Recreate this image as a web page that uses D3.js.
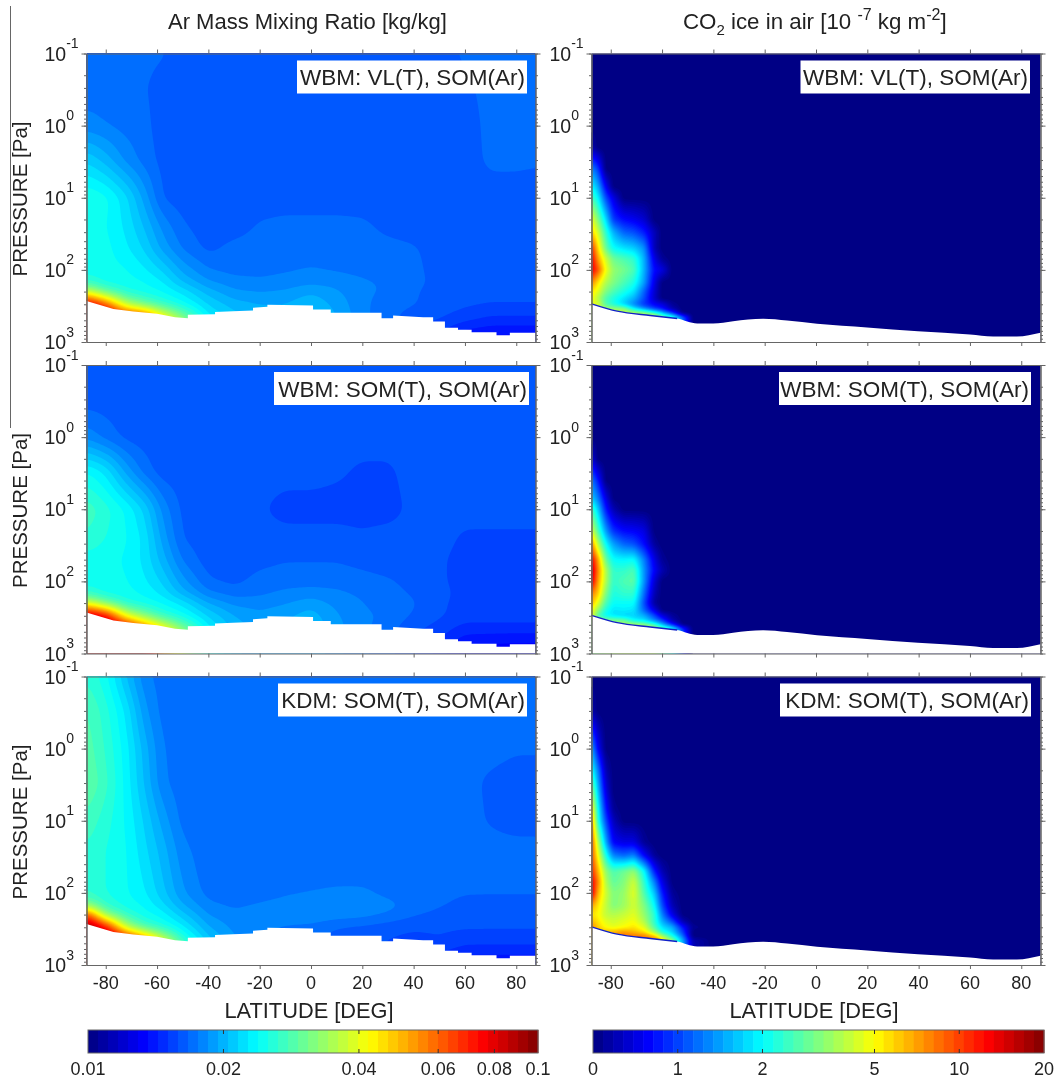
<!DOCTYPE html>
<html lang="en">
<head>
<meta charset="UTF-8">
<title>Ar mass mixing ratio and CO2 ice</title>
<script src="https://cdn.jsdelivr.net/npm/d3@7"></script>
<style>
    html, body { margin: 0; padding: 0; background: #fff; }
    svg { display: block; filter: blur(0.4px); }
    text { font-family: "Liberation Sans", Arial, sans-serif; fill: #222; }
    .axis path, .axis line { stroke: #666; }
</style>
</head>
<body>
<svg id="chart" width="1056" height="1080"></svg>
<script>
// grid of the Ar panels
var arLat = [-87.5,-80,-72,-65,-58,-50,-40,-30,-20,-10,0,10,20,30,40,50,60,70,80,87.5];
var arPres = [0.1,0.3,1,3,10,25,50,100,150,200,300,450,700,1000];

// Ar mass mixing ratio, units of 1e-4 kg/kg, one row per pressure
var arVL = [
    [170,170,170,170,168,162,162,162,162,162,162,162,162,162,162,164,168,170,170,170],
    [170,170,170,168,162,162,162,162,162,162,162,162,162,162,162,162,165,170,170,170],
    [180,176,172,170,162,162,162,162,162,162,162,162,162,162,162,162,162,170,170,170],
    [214,200,182,172,164,162,162,162,162,162,162,162,162,162,162,162,162,169,169,168],
    [251,243,219,191,166,162,162,162,162,162,162,162,162,162,162,162,162,162,162,162],
    [245,240,224,204,182,168,162,162,168,170,170,170,169,164,162,162,162,162,162,162],
    [243,243,229,214,191,174,164,170,172,172,172,172,172,170,168,162,162,162,162,162],
    [245,243,240,229,214,191,176,172,172,174,176,174,172,170,170,162,162,162,162,162],
    [263,245,243,240,229,204,186,180,178,180,182,182,178,174,170,164,162,162,162,162],
    [380,288,251,243,237,224,200,186,184,186,193,186,178,174,168,162,161,160,160,160],
    [891,631,355,295,263,240,214,200,195,195,204,191,178,170,168,162,160,159,159,159],
    [1000,955,794,708,447,316,229,209,200,200,209,195,178,170,162,160,155,150,150,150],
    [1000,1000,1000,1000,600,400,260,220,200,200,209,195,178,170,160,152,142,139,139,139],
    [1000,1000,1000,1000,600,400,260,220,200,200,209,195,178,170,158,145,132,130,130,130]
];
var arSOM = [
    [162,162,162,162,162,162,162,162,162,162,162,162,162,162,162,162,162,162,162,162],
    [162,162,162,162,162,162,162,162,162,162,162,162,162,162,162,162,162,162,162,162],
    [182,172,164,162,162,162,162,162,162,162,162,162,162,162,162,162,162,162,162,162],
    [240,224,191,172,162,162,162,162,162,162,162,160,157,157,162,162,162,162,162,162],
    [275,257,237,214,182,164,162,162,160,155,155,155,155,155,161,162,162,162,162,162],
    [263,251,240,224,191,166,162,162,162,162,162,162,160,162,162,162,157,157,157,157],
    [245,243,237,224,200,174,162,162,164,166,166,166,164,162,162,160,155,155,155,155],
    [245,243,240,229,214,188,168,164,170,172,172,172,170,168,164,160,155,155,155,155],
    [263,245,243,237,224,200,178,172,174,178,180,178,174,170,166,162,155,155,155,155],
    [398,302,251,243,237,224,195,182,180,184,191,182,176,170,168,160,155,155,155,155],
    [955,794,398,316,263,240,214,195,188,193,200,186,178,174,166,160,155,155,155,155],
    [1000,1000,891,631,447,316,229,200,190,195,204,188,178,170,160,155,147,147,147,147],
    [1000,1000,1000,1000,600,400,260,210,195,198,204,188,178,170,160,150,138,137,136,136],
    [1000,1000,1000,1000,600,400,260,210,195,198,204,188,178,170,160,148,130,130,130,130]
];
var arKDM = [
    [263,243,204,178,172,170,170,170,170,170,170,170,170,170,170,170,170,170,170,170],
    [282,257,224,188,172,170,170,170,170,170,170,170,170,170,170,170,170,170,170,170],
    [288,263,232,200,176,170,170,170,170,170,170,170,170,170,170,170,170,170,168,168],
    [295,269,234,204,178,170,170,170,170,170,170,170,170,170,170,170,170,165,162,162],
    [275,257,237,214,191,172,170,170,170,170,170,170,170,170,170,170,170,166,163,163],
    [263,251,240,219,200,178,170,170,170,170,170,170,170,170,170,170,170,170,170,170],
    [263,251,240,224,204,182,170,170,170,170,170,170,170,170,170,170,170,170,170,170],
    [263,251,240,229,209,186,172,170,170,174,176,178,178,172,170,170,168,168,168,168],
    [316,263,245,237,219,195,178,174,178,180,182,184,184,180,172,168,163,162,162,162],
    [708,316,263,243,234,209,184,178,178,182,184,182,180,174,168,164,162,161,161,161],
    [1000,794,355,275,251,229,195,182,178,174,172,166,164,162,160,160,160,160,160,160],
    [1000,1000,891,631,398,263,209,186,178,172,168,164,160,158,155,158,153,153,153,153],
    [1000,1000,1000,1000,550,320,220,190,178,172,168,164,160,158,155,150,146,146,146,146],
    [1000,1000,1000,1000,550,320,220,190,178,172,168,164,160,158,155,148,130,130,130,130]
];

// grid of the ice panels, only the southern high latitudes have ice
var iceLat = [-87.5,-85,-82,-79,-75,-71,-67,-63,-60,-56,-52,-48,-40,87.5];
var icePres = [0.1,0.3,1,2,4,7,10,20,30,50,70,100,150,200,250,300,350,400,450,1000];

// CO2 ice in air, units of 1e-7 kg m-2
var iceVL = [
    [0,0,0,0,0,0,0,0,0,0,0,0,0,0],
    [0,0,0,0,0,0,0,0,0,0,0,0,0,0],
    [0,0,0,0,0,0,0,0,0,0,0,0,0,0],
    [0.6,0,0,0,0,0,0,0,0,0,0,0,0,0],
    [1.3,1,0.5,0,0,0,0,0,0,0,0,0,0,0],
    [2,1.5,0.78,0,0,0,0,0,0,0,0,0,0,0],
    [2.63,1.96,1.04,0.72,0,0,0,0,0,0,0,0,0,0],
    [4.9,3.16,1.82,0.97,0.81,0.75,0.67,0,0,0,0,0,0,0],
    [6.1,4.24,2.36,1.51,1.13,1.04,0.87,0.62,0,0,0,0,0,0],
    [11.5,5.7,2.94,2.03,1.82,1.68,1.35,0.6,0,0,0,0,0,0],
    [13.8,7.1,4.24,2.94,2.63,2.36,1.51,0.72,0.54,0,0,0,0,0],
    [13.8,9.6,4.9,3.4,3.05,2.63,1.51,0.81,0.72,0,0,0,0,0],
    [7.9,5.5,3.8,3.16,2.63,2.2,1.41,0.72,0,0,0,0,0,0],
    [5.5,4.55,3.16,2.63,2.2,1.82,1.13,0.67,0,0,0,0,0,0],
    [5.1,3.8,2.63,2.2,1.82,1.51,1.04,0.65,0,0,0,0,0,0],
    [4.55,4.55,2.63,2.2,1.68,1.26,0.94,0.78,0.72,0.54,0,0,0,0],
    [3.8,3.8,3.8,3.6,3.6,2,1.4,1,0.85,0.6,0,0,0,0],
    [3.8,3.8,3.8,4,4.2,4.2,3.8,2.8,1.8,1,0.5,0,0,0],
    [3.8,3.8,3.8,4,4.2,4.2,4.2,4.2,3.2,2.4,1.2,0,0,0],
    [3.8,3.8,3.8,4,4.2,4.2,4.2,4.2,3.2,2.4,1.2,0,0,0]
];
var iceSOM = [
    [0,0,0,0,0,0,0,0,0,0,0,0,0,0],
    [0,0,0,0,0,0,0,0,0,0,0,0,0,0],
    [0,0,0,0,0,0,0,0,0,0,0,0,0,0],
    [0.72,0.5,0,0,0,0,0,0,0,0,0,0,0,0],
    [1.26,0.87,0.5,0,0,0,0,0,0,0,0,0,0,0],
    [1.68,1.26,0.72,0,0,0,0,0,0,0,0,0,0,0],
    [2.63,1.68,0.87,0.6,0,0,0,0,0,0,0,0,0,0],
    [4.55,2.63,1.41,0.94,0.81,0.78,0.72,0,0,0,0,0,0,0],
    [7.9,3.8,2.03,1.41,1.13,1.04,0.81,0.55,0,0,0,0,0,0],
    [13.8,7.1,2.94,2.03,1.96,2.03,1.26,0.72,0.54,0,0,0,0,0],
    [16.6,7.9,3.8,2.36,2.36,2.63,1.35,0.78,0.6,0,0,0,0,0],
    [15,7.1,3.8,2.36,2.63,2.8,1.35,0.67,0,0,0,0,0,0],
    [7.9,6.1,3.16,2.2,2.36,2.36,1.16,0.6,0,0,0,0,0,0],
    [6.6,4.55,2.63,2.03,2.03,2.03,1.04,0.55,0,0,0,0,0,0],
    [5.1,3.4,2.2,1.82,1.9,1.82,1.13,0.72,0,0,0,0,0,0],
    [5.1,2.63,1.96,1.82,1.68,1.68,1.51,1.04,0.72,0.55,0,0,0,0],
    [3.4,3.4,3.4,3.2,3,2,1.8,1.3,1,0.6,0,0,0,0],
    [3.4,3.4,3.6,3.8,4,4,3.5,2.6,1.6,0.9,0.5,0,0,0],
    [3.4,3.4,3.6,3.8,4,4,4,4,3,2.2,1,0,0,0],
    [3.4,3.4,3.6,3.8,4,4,4,4,3,2.2,1,0,0,0]
];
var iceKDM = [
    [0,0,0,0,0,0,0,0,0,0,0,0,0,0],
    [0.6,0,0,0,0,0,0,0,0,0,0,0,0,0],
    [1.51,0.78,0,0,0,0,0,0,0,0,0,0,0,0],
    [2.2,1.26,0.6,0,0,0,0,0,0,0,0,0,0,0],
    [3.8,1.63,0.72,0,0,0,0,0,0,0,0,0,0,0],
    [6.1,2.03,0.87,0.54,0,0,0,0,0,0,0,0,0,0],
    [7.9,2.2,1.04,0.62,0,0,0,0,0,0,0,0,0,0],
    [10,3.8,1.51,0.78,0.72,0.72,0.54,0,0,0,0,0,0,0],
    [10,4.9,2.2,1.26,1.13,1.26,0.78,0.54,0,0,0,0,0,0],
    [11.5,6.6,3.4,2.63,2.94,3.4,2.03,0.87,0.6,0,0,0,0,0],
    [13.8,7.9,3.8,2.8,3.16,4.24,2.36,1.26,0.72,0,0,0,0,0],
    [15,6.6,4.24,3.16,3.4,4.55,2.63,1.63,0.87,0.54,0,0,0,0],
    [7.1,5.5,4.05,3.16,3.5,4.24,3.16,2.03,1.04,0.6,0,0,0,0],
    [5.5,5.1,4,3.8,4.05,4.55,3.4,2.36,1.26,0.72,0,0,0,0],
    [6.6,5.5,4.55,4.24,4.55,4.9,3.8,2.36,1.51,1.04,0.6,0,0,0],
    [7.9,6.1,4.9,4.55,4.9,5.5,4.55,2.63,1.82,1.51,0.87,0.54,0,0],
    [6.6,6.6,6.6,6.8,7.5,6.5,5.5,3.5,2.2,1.7,1,0.5,0,0],
    [6.6,6.6,6.6,7,8.5,8.5,8.5,6.5,3.8,2.2,1.2,0.5,0,0],
    [6.6,6.6,6.6,7,8.5,8.5,8.5,8.5,5.5,3.4,1.5,0.6,0,0],
    [6.6,6.6,6.6,7,8.5,8.5,8.5,8.5,5.5,3.4,1.5,0.6,0,0]
];

// bottom of the atmosphere in Pa, the Ar run has a coarse blocky surface
var arSurfLat = [-87.5,-77,-69.3,-60,-53,-48,-48,-37.4,-37.4,-30.4,-22.6,-22.6,-17,-17,0.8,0.8,7.7,7.7,27.5,27.5,32,32,43.7,47.6,47.6,52.2,52.2,57.3,57.3,62.6,62.6,72.3,72.3,77.5,77.5,87.5];
var arSurfPres = [271,348,377,406,452,467,419,413,385,375,365,335,325,304,311,354,354,393,393,467,467,429,452,452,519,519,635,635,677,677,731,731,804,804,745,745];
var iceSurfLat = [-87.5,-77.5,-64.6,-54.1,-46.3,-40.1,-32.3,-20.6,-11.3,0.4,19.9,39.7,60,69,78.3,87.5];
var iceSurfPres = [295,373,429,472,553,553,514,476,503,558,629,708,787,839,839,745];

var latTicks = [-80,-60,-40,-20,0,20,40,60,80];
var presTicks = [0.1,1,10,100,1000];
var presExp = ["-1","0","1","2","3"];
var arBarTicks = [0.01,0.02,0.04,0.06,0.08,0.1];
var arBarLabels = ["0.01","0.02","0.04","0.06","0.08","0.1"];
var iceBarTicks = [0.5,1,2,5,10,20];
var iceBarLabels = ["0","1","2","5","10","20"];

var rowTop = [53.5,365,676.5];
var rowLabels = ["PRESSURE [Pa]","PRESSURE [Pa]","PRESSURE [Pa]"];
var arTags = ["WBM: VL(T), SOM(Ar)","WBM: SOM(T), SOM(Ar)","KDM: SOM(T), SOM(Ar)"];
var arGrids = [arVL,arSOM,arKDM];
var iceGrids = [iceVL,iceSOM,iceKDM];

var panelH = 288.5;
var svg = d3.select("#chart");

var arPos = d3.scaleLog().domain([0.01,0.1]).range([0,1]).clamp(true);
var icePos = d3.scaleLog().domain([0.5,20]).range([0,1]).clamp(true);

function jet(t) {
    function c(v) { return Math.round(255*Math.max(0,Math.min(1,v))); }
    return "rgb("+c(1.5-Math.abs(4*t-3))+","+c(1.5-Math.abs(4*t-2))+","+c(1.5-Math.abs(4*t-1))+")";
}

function knot(list,v) {
    var i = d3.bisectRight(list,v)-1;
    i = Math.max(0,Math.min(list.length-2,i));
    return [i,Math.max(0,Math.min(1,(v-list[i])/(list[i+1]-list[i])))];
}

// read the uneven table on an even pixel grid so the contours come out round like the original
function sampleField(grid,lats,pres,pos,x,y,cell,blur) {
    var nx = Math.round((x.range()[1]-x.range()[0])/cell), ny = Math.round(panelH/cell);
    var logs = pres.map(Math.log10);
    var flat = new Float64Array(nx*ny);
    for (var j=0;j<ny;j++) {
        var py = y.range()[0]+(j+0.5)*panelH/ny;
        var a = knot(logs,Math.log10(y.invert(py)));
        for (var i=0;i<nx;i++) {
            var lat = x.invert(x.range()[0]+(i+0.5)*(x.range()[1]-x.range()[0])/nx);
            var b = knot(lats,lat);
            var top = pos(grid[a[0]][b[0]])*(1-b[1])+pos(grid[a[0]][b[0]+1])*b[1];
            var low = pos(grid[a[0]+1][b[0]])*(1-b[1])+pos(grid[a[0]+1][b[0]+1])*b[1];
            flat[j*nx+i] = top*(1-a[1])+low*a[1];
        }
    }
    var out = {data:flat,width:nx,height:ny};
    if (blur>0) d3.blur2(out,blur);
    return out;
}

function drawField(g,grid,lats,pres,pos,levels,cell,blur,x,y) {
    var f = sampleField(grid,lats,pres,pos,x,y,cell,blur);
    var left = x.range()[0], kx = (x.range()[1]-left)/f.width, ky = panelH/f.height, top = y.range()[0];
    var path = d3.geoPath(d3.geoTransform({
        point: function(px,py){ this.stream.point(left+px*kx,top+py*ky); }
    }));
    var thresholds = d3.range(1,levels).map(function(k){return k/levels;});
    var bands = d3.contours().size([f.width,f.height]).thresholds(thresholds)(Array.from(f.data));
    g.append("rect").attr("x",left).attr("y",top)
        .attr("width",x.range()[1]-left).attr("height",panelH)
        .attr("fill",jet(0.5/levels));
    g.selectAll("path.band").data(bands).enter().append("path")
        .attr("class","band")
        .attr("d",path)
        .attr("fill",function(d){ return jet(d.value+0.5/levels); });
}

function drawSurface(g,lats,pres,x,y,curve) {
    var pts = lats.map(function(d,i){ return [d,pres[i]]; });
    var area = d3.area().curve(curve).x(function(d){return x(d[0]);}).y0(y(1000)).y1(function(d){return y(d[1]);});
    g.append("path").datum(pts).attr("d",area).attr("fill","#fff");
}

function drawAxes(g,x,y,showLat) {
    var top = y.range()[0], bottom = y.range()[1], left = x.range()[0], right = x.range()[1];
    var minor = y.ticks();
    function put(axis,dx,dy) {
        g.append("g").attr("class","axis").attr("transform","translate("+dx+","+dy+")").call(axis)
            .call(function(s){ s.selectAll("text").remove(); });
    }
    put(d3.axisTop(x).tickValues(latTicks).tickSize(4).tickSizeOuter(0),0,top);
    put(d3.axisBottom(x).tickValues(latTicks).tickSize(4).tickSizeOuter(0),0,bottom);
    put(d3.axisLeft(y).tickValues(minor).tickSize(2.5).tickSizeOuter(0),left,0);
    put(d3.axisLeft(y).tickValues(presTicks).tickSize(5).tickSizeOuter(0),left,0);
    put(d3.axisRight(y).tickValues(minor).tickSize(2.5).tickSizeOuter(0),right,0);
    put(d3.axisRight(y).tickValues(presTicks).tickSize(5).tickSizeOuter(0),right,0);

    presTicks.forEach(function(p,i){
        var t = g.append("text").attr("x",left-42).attr("y",y(p)+7).attr("font-size",19.5).text("10");
        t.append("tspan").attr("dy",-12.5).attr("font-size",14).text(presExp[i]);
    });
    if (showLat) {
        latTicks.forEach(function(d){
            g.append("text").attr("x",x(d)).attr("y",bottom+24).attr("text-anchor","middle")
                .attr("font-size",18).text(d);
        });
        g.append("text").attr("x",(left+right)/2-2).attr("y",bottom+53).attr("text-anchor","middle")
            .attr("font-size",21.8).text("LATITUDE [DEG]");
    }
}

function drawTag(g,label,boxLeft,boxRight,top) {
    g.append("rect").attr("x",boxLeft).attr("y",top+7).attr("width",boxRight-boxLeft).attr("height",33).attr("fill","#fff");
    g.append("text").attr("x",boxRight-2).attr("y",top+31.5).attr("text-anchor","end")
        .attr("font-size",22.5).attr("fill","#111").text(label);
}

function drawBar(xLeft,xRight,ticks,labels,scale) {
    var g = svg.append("g");
    var barTop = 1030, barH = 23, levels = 45;
    var steps = d3.range(levels);
    var w = (xRight-xLeft)/levels;
    g.selectAll("rect").data(steps).enter().append("rect")
        .attr("x",function(k){return xLeft+k*w;}).attr("y",barTop)
        .attr("width",w+0.5).attr("height",barH)
        .attr("fill",function(k){return jet((k+0.5)/levels);});
    g.append("rect").attr("x",xLeft).attr("y",barTop).attr("width",xRight-xLeft).attr("height",barH)
        .attr("fill","none").attr("stroke","#666");
    ticks.forEach(function(v,i){
        var px = scale(v);
        if (i>0 && i<ticks.length-1) {
            g.append("line").attr("x1",px).attr("x2",px).attr("y1",barTop).attr("y2",barTop+4).attr("stroke","#333");
            g.append("line").attr("x1",px).attr("x2",px).attr("y1",barTop+barH-4).attr("y2",barTop+barH).attr("stroke","#333");
        }
        g.append("text").attr("x",px).attr("y",barTop+45).attr("text-anchor","middle")
            .attr("font-size",18).text(labels[i]);
    });
}

var xAr = d3.scaleLinear().domain([-87.5,87.5]).range([86.5,535.5]);
var xIce = d3.scaleLinear().domain([-87.5,87.5]).range([591.5,1040.5]);
var arBoxes = [[297,527],[274,529],[278,527]];
var iceBoxes = [[800.5,1030],[779,1031],[780,1031]];

rowTop.forEach(function(top,i){
    var y = d3.scaleLog().domain([0.1,1000]).range([top,top+panelH]);
    var last = i==rowTop.length-1;

    var gAr = svg.append("g");
    drawField(gAr,arGrids[i],arLat,arPres,function(v){return arPos(v*1e-4);},45,2,2,xAr,y);
    drawSurface(gAr,arSurfLat,arSurfPres,xAr,y,d3.curveLinear);
    drawAxes(gAr,xAr,y,last);
    drawTag(gAr,arTags[i],arBoxes[i][0],arBoxes[i][1],top);

    var gIce = svg.append("g");
    drawField(gIce,iceGrids[i],iceLat,icePres,icePos,90,1,1.2,xIce,y);
    drawSurface(gIce,iceSurfLat,iceSurfPres,xIce,y,d3.curveMonotoneX);
    // thin blue rim where the ice runs into the ground
    var rim = d3.line().curve(d3.curveMonotoneX).x(function(d){return xIce(d[0]);}).y(function(d){return y(d[1]);});
    gIce.append("path").datum(iceSurfLat.slice(0,4).map(function(d,k){return [d,iceSurfPres[k]];}))
        .attr("d",rim).attr("fill","none").attr("stroke","#1020c8").attr("stroke-width",1.3);
    drawAxes(gIce,xIce,y,last);
    drawTag(gIce,arTags[i],iceBoxes[i][0],iceBoxes[i][1],top);

    svg.append("text").attr("transform","translate(26.5,"+(top+145.5)+") rotate(-90)")
        .attr("text-anchor","middle").attr("font-size",20.5).text(rowLabels[i]);
});

svg.append("line").attr("x1",10.5).attr("x2",10.5).attr("y1",6).attr("y2",428).attr("stroke","#666");

svg.append("text").attr("x",168).attr("y",29).attr("font-size",22).text("Ar Mass Mixing Ratio [kg/kg]");
var t2 = svg.append("text").attr("x",683).attr("y",29).attr("font-size",22.3);
t2.append("tspan").text("CO");
t2.append("tspan").attr("dy",6).attr("font-size",15).text("2");
t2.append("tspan").attr("dy",-6).text(" ice in air [10 ");
t2.append("tspan").attr("dy",-9).attr("font-size",16).text("-7");
t2.append("tspan").attr("dy",9).text(" kg m");
t2.append("tspan").attr("dy",-9).attr("font-size",16).text("-2");
t2.append("tspan").attr("dy",9).text("]");

drawBar(88,538,arBarTicks,arBarLabels,d3.scaleLog().domain([0.01,0.1]).range([88,538]));
drawBar(593,1044,iceBarTicks,iceBarLabels,d3.scaleLog().domain([0.5,20]).range([593,1044]));
</script>
</body>
</html>
